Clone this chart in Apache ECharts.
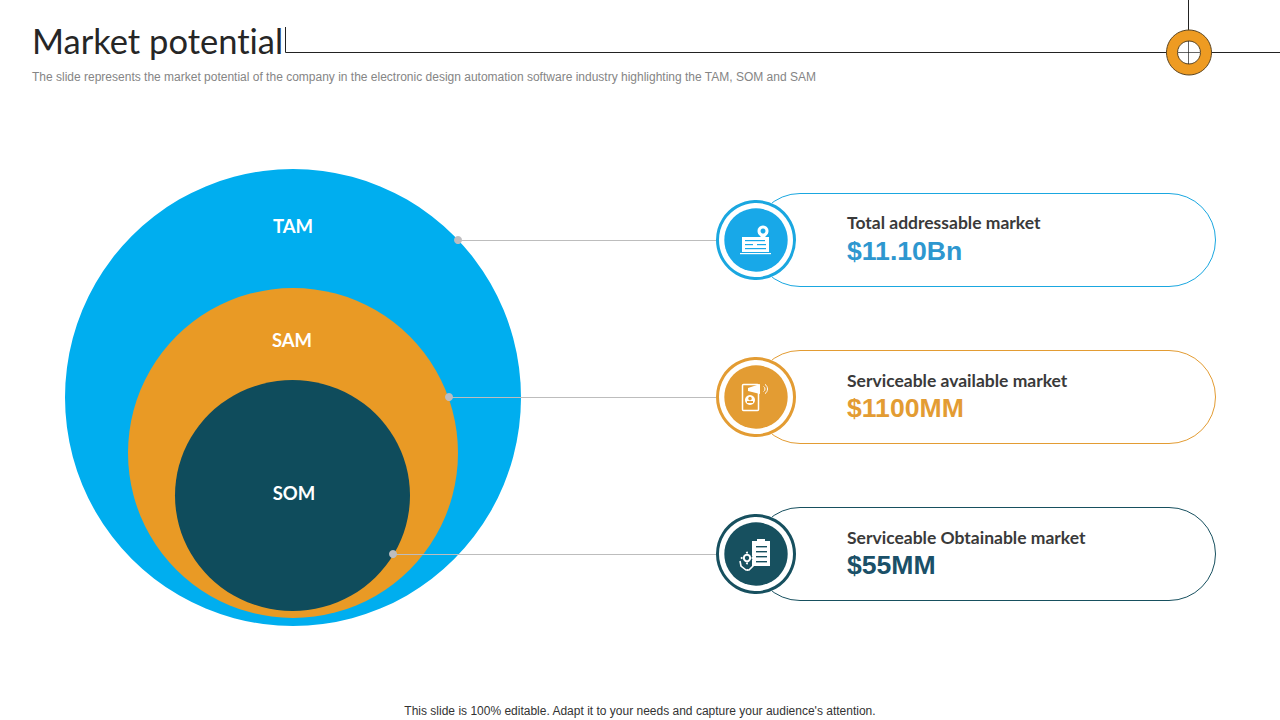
<!DOCTYPE html>
<html><head><meta charset="utf-8">
<style>html,body{margin:0;padding:0;background:#fff}#c{width:1280px;height:720px}text{font-variant-ligatures:none !important}</style>
<script src="https://cdn.jsdelivr.net/npm/echarts@6/dist/echarts.min.js"></script>
</head><body><div id="c"></div>
<script>
// Data
const circleNames = ['TAM', 'SAM', 'SOM'];
const marketNames = ['Total addressable market', 'Serviceable available market', 'Serviceable Obtainable market'];
const marketValues = ['$11.10Bn', '$1100MM', '$55MM'];
const titleText = 'Market potential';
const subtitleText = 'The slide represents the market potential of the company in the electronic design automation software industry highlighting the TAM, SOM and SAM';
const footerText = "This slide is 100% editable. Adapt it to your needs and capture your audience's attention.";

// Layout and style
const circleX = [293, 293, 292.5];
const circleY = [397.5, 453, 495.5];
const circleW = [456, 330, 235];
const circleH = [457, 330, 231];
const labelX = [293, 292, 294];
const labelY = [226, 340, 493];
const colors = ['#00AEEF', '#E99A25', '#0F4C5C'];
const ringColors = ['#1AA7E0', '#E39C33', '#17505F'];
const valueColors = ['#2E97CF', '#E39C33', '#1B5068'];
const rowY = [240, 397, 554];
const nameOffset = [-17.5, -16.5, -17];
const dotX = [458, 449, 393];
const iconX = 756;

const g = [];
const LINE = '#222222';
function txt(x, y, text, font, fill, align, z){
  g.push({type:'text', z:z||5, style:{x, y, text, font, fill, verticalAlign:'middle', align:align||'left'}});
}
// header
txt(32, 40, titleText, '34.5px Lato', '#262626');
txt(32, 77, subtitleText, '12px "Liberation Sans"', '#858585');
g.push({type:'polyline', z:5, shape:{points:[[285.5,27],[285.5,52.5],[1280,52.5]]}, style:{stroke:LINE, lineWidth:1, fill:null}});
g.push({type:'line', z:5, shape:{x1:1188.5,y1:0,x2:1188.5,y2:32}, style:{stroke:LINE, lineWidth:1}});
g.push({type:'circle', z:6, shape:{cx:1189,cy:52.5,r:22.5}, style:{fill:'#EE9B22', stroke:'#5B4420', lineWidth:1}});
g.push({type:'circle', z:7, shape:{cx:1189,cy:52.5,r:11.5}, style:{fill:'#fff', stroke:'#5B4420', lineWidth:1}});
g.push({type:'line', z:8, shape:{x1:1188.5,y1:41,x2:1188.5,y2:64}, style:{stroke:LINE, lineWidth:0.7}});
g.push({type:'line', z:8, shape:{x1:1178,y1:52.5,x2:1200,y2:52.5}, style:{stroke:LINE, lineWidth:0.7}});
// footer
txt(640, 711, footerText, '12px "Liberation Sans"', '#333', 'center');

marketNames.forEach((n, i) => {
  const y = rowY[i];
  g.push({type:'rect', z:5, shape:{x:753.5,y:y-46.5,width:462,height:93,r:46.5}, style:{fill:'#fff', stroke:ringColors[i], lineWidth:1}});
  g.push({type:'circle', z:6, shape:{cx:iconX,cy:y,r:40}, style:{fill:'#fff'}});
  g.push({type:'circle', z:7, shape:{cx:iconX,cy:y,r:38.5}, style:{fill:'#fff', stroke:ringColors[i], lineWidth:3}});
  g.push({type:'circle', z:8, shape:{cx:iconX,cy:y,r:31.7}, style:{fill:i===0?'#18A8E8':ringColors[i]}});
  txt(847, y+nameOffset[i], n, 'bold 17.5px Lato', '#3A3A3A', 'left', 9);
  txt(847, y+10.5, marketValues[i], 'bold 26.6px "Liberation Sans"', valueColors[i], 'left', 9);
});

// icons (white glyphs)
const W = '#fff';
function ic(type, shape, style){ g.push({type, z:10, shape, style:Object.assign({fill:W}, style||{})}); }
// 1: laptop with map pin
ic('rect',{x:742,y:237,width:27,height:15},{fill:W});
ic('rect',{x:745,y:240,width:20,height:1.2},{fill:'#18A8E8'});
ic('rect',{x:745,y:244,width:8,height:1.2},{fill:'#18A8E8'});
ic('rect',{x:757,y:244,width:9,height:1.2},{fill:'#18A8E8'});
ic('rect',{x:745,y:248,width:21,height:1.2},{fill:'#18A8E8'});
ic('rect',{x:740,y:253,width:31,height:1.2});
ic('circle',{cx:763,cy:231,r:5.5});
ic('polygon',{points:[[758,233],[768,233],[763,240]]});
ic('circle',{cx:763,cy:231,r:2.5},{fill:'#18A8E8'});
// 2: phone with person + megaphone
const oc = ringColors[1];
ic('rect',{x:742.5,y:384.5,width:16,height:26,r:1},{fill:'none',stroke:W,lineWidth:1.5});
ic('circle',{cx:750,cy:400,r:5},{fill:W});
ic('circle',{cx:750,cy:398.5,r:1.8},{fill:oc});
ic('rect',{x:747,y:401,width:6,height:2},{fill:oc});
ic('polygon',{points:[[748,388],[760,384],[760,394],[748,391]]});
ic('arc',{cx:762,cy:389,r:3,startAngle:-1,endAngle:1},{fill:'none',stroke:W,lineWidth:1});
ic('arc',{cx:762,cy:389,r:5.5,startAngle:-1,endAngle:1},{fill:'none',stroke:W,lineWidth:1});
// 3: clipboard + hands with gear
const dc = ringColors[2];
ic('rect',{x:752,y:541,width:18,height:25},{fill:W});
ic('rect',{x:757,y:539,width:8,height:4},{fill:W});
[546,551,556,561].forEach(yy => ic('rect',{x:756,y:yy,width:11,height:1.4},{fill:dc}));
ic('circle',{cx:747,cy:558,r:5.5},{fill:dc});
ic('circle',{cx:747,cy:558,r:3.2},{fill:'none',stroke:W,lineWidth:2});
[[747,552.6],[747,563.4],[741.6,558],[752.4,558]].forEach(p => ic('circle',{cx:p[0],cy:p[1],r:1}));
ic('polyline',{points:[[740,561],[741,566],[746,570],[748,570]]},{fill:'none',stroke:W,lineWidth:1.6});
ic('polyline',{points:[[755,561],[753,566],[749,570],[747,570]]},{fill:'none',stroke:W,lineWidth:1.6});

const option = {
  animation:false,
  backgroundColor:'#fff',
  grid:{left:0,right:0,top:0,bottom:0},
  xAxis:{type:'value',min:0,max:1280,show:false},
  yAxis:{type:'value',min:0,max:720,inverse:true,show:false},
  series:[
    {type:'scatter', z:2, silent:true,
     data:circleNames.map((n,i)=>({
       name:n, value:[circleX[i],circleY[i]], symbolSize:[circleW[i],circleH[i]],
       itemStyle:{color:colors[i],opacity:1}
     }))},
    {type:'scatter', z:3, silent:true, symbol:'circle', symbolSize:1, itemStyle:{color:'rgba(0,0,0,0)',opacity:1},
     data:circleNames.map((n,i)=>({name:n,value:[labelX[i],labelY[i]]})),
     label:{show:true,position:'inside',formatter:'{b}',color:'#fff',fontFamily:'Lato',fontWeight:'bold',fontSize:18.5}},
    ...rowY.map((y,i)=>({type:'line', z:3, silent:true, symbol:'none',
      data:[[dotX[i],y+0.5],[iconX-40,y+0.5]], lineStyle:{color:'#BDBDBD',width:1}})),
    {type:'scatter', z:4, silent:true, symbolSize:8, itemStyle:{color:'#BDBDC0',opacity:1},
     data:rowY.map((y,i)=>[dotX[i],y])}
  ],
  graphic:{elements:g}
};
const chart = echarts.init(document.getElementById('c'), null, {renderer:'svg'});
chart.setOption(option);
</script></body></html>
